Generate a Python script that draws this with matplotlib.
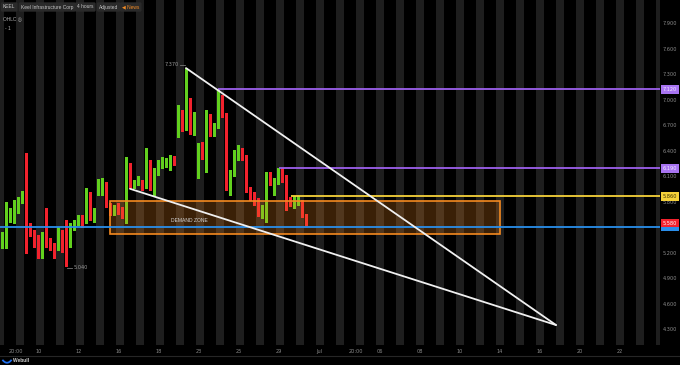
import matplotlib
matplotlib.use('Agg')
import matplotlib.pyplot as plt
from matplotlib.patches import Rectangle
from matplotlib.lines import Line2D
import numpy as np

# ---------------- data (4-hour bars, KEEL) ----------------
opens = [5.31, 5.38, 5.65, 5.67, 5.70, 5.79, 5.90, 5.50, 5.43, 5.39,
         5.18, 5.39, 5.32, 5.28, 5.35, 5.41, 5.29, 5.29, 5.51, 5.55,
         5.59, 5.56, 5.90, 5.58, 5.95, 5.95, 5.98, 5.75, 5.68, 5.72,
         5.71, 5.59, 6.15, 5.97, 6.02, 6.02, 5.97, 6.16, 5.97, 6.17,
         6.21, 6.23, 6.21, 6.30, 6.68, 6.84, 6.68, 6.99, 6.65, 6.14,
         6.43, 6.17, 6.78, 6.61, 6.69, 6.99, 6.82, 5.99, 6.14, 6.32,
         6.38, 6.32, 5.95, 5.88, 5.79, 5.64, 5.70, 6.11, 6.01, 6.03,
         6.17, 6.08, 5.82, 5.78, 5.79, 5.79, 5.64]
highs = [5.44, 5.79, 5.72, 5.82, 5.85, 5.92, 6.37, 5.55, 5.47, 5.41,
         5.44, 5.72, 5.37, 5.31, 5.50, 5.47, 5.58, 5.55, 5.58, 5.64,
         5.64, 5.96, 5.91, 5.72, 6.07, 6.08, 6.03, 5.78, 5.76, 5.78,
         5.74, 6.32, 6.25, 6.05, 6.10, 6.05, 6.43, 6.29, 6.19, 6.29,
         6.32, 6.31, 6.35, 6.34, 6.94, 6.88, 7.37, 7.02, 6.85, 6.49,
         6.50, 6.88, 6.83, 6.72, 7.12, 7.05, 6.84, 6.17, 6.41, 6.47,
         6.43, 6.35, 5.97, 5.91, 5.84, 5.76, 6.15, 6.15, 6.08, 6.19,
         6.19, 6.11, 5.85, 5.87, 5.87, 5.82, 5.65]
lows = [5.25, 5.25, 5.56, 5.55, 5.67, 5.78, 5.19, 5.39, 5.27, 5.14,
        5.14, 5.27, 5.23, 5.14, 5.23, 5.21, 5.04, 5.27, 5.47, 5.52,
        5.50, 5.55, 5.58, 5.56, 5.88, 5.88, 5.74, 5.64, 5.64, 5.65,
        5.61, 5.55, 5.96, 5.96, 5.99, 5.94, 5.96, 5.94, 5.88, 6.11,
        6.19, 6.21, 6.17, 6.23, 6.56, 6.63, 6.64, 6.59, 6.58, 6.08,
        6.30, 6.15, 6.57, 6.57, 6.67, 6.79, 5.94, 5.88, 6.10, 6.29,
        6.29, 5.91, 5.82, 5.76, 5.63, 5.61, 5.56, 5.99, 5.88, 6.01,
        6.03, 5.70, 5.75, 5.72, 5.76, 5.62, 5.52]
closes = [5.39, 5.67, 5.68, 5.71, 5.82, 5.90, 5.52, 5.43, 5.31, 5.16,
          5.38, 5.32, 5.25, 5.24, 5.38, 5.24, 5.27, 5.52, 5.54, 5.61,
          5.51, 5.90, 5.59, 5.67, 5.97, 5.98, 5.75, 5.67, 5.72, 5.70,
          5.62, 6.15, 5.97, 6.03, 6.07, 5.96, 6.17, 5.97, 6.15, 6.23,
          6.27, 6.28, 6.31, 6.28, 6.87, 6.68, 6.96, 6.68, 6.81, 6.43,
          6.35, 6.79, 6.61, 6.68, 6.97, 6.82, 5.99, 6.14, 6.35, 6.38,
          6.32, 5.95, 5.87, 5.81, 5.67, 5.68, 6.11, 6.03, 6.03, 6.18,
          6.05, 5.82, 5.78, 5.82, 5.83, 5.64, 5.58]

price_ticks = [4.3, 4.6, 4.9, 5.2, 5.5, 5.8, 6.1, 6.4, 6.7, 7.0, 7.3, 7.6, 7.9]
date_labels = ['20:00', '10', '12', '16', '18', '23', '25', '29', 'Jul',
               '20:00', '06', '08', '10', '14', '16', '20', '22']
date_slots = [3.5, 9.25, 19.25, 29.25, 39.25, 49.25, 59.25, 69.25, 79.25,
              88.5, 94.5, 104.5, 114.5, 124.5, 134.5, 144.5, 154.5]

resistance_prices = [7.12, 6.19, 5.86]
resistance_from = [54, 69.25, 72.25]
support_price = 5.50
last_price = 5.58
zone_x = [27, 124.5]
zone_prices = [5.418, 5.806]
trend_a = [(46, 7.37), (138.5, 4.347)]
trend_b = [(32, 5.95), (138.5, 4.347)]
high_mark = (46, 7.37)
low_mark = (16, 5.04)

# ---------------- styling ----------------
GREEN = '#62d11e'
RED = '#f2222d'
TXT = '#8c8c8c'
STRIPE = '#1e1e1e'
PURPLE = '#9d60ec'
YELLOW = '#f6d23a'
BLUE = '#2a8eea'
ORANGE = '#f58a20'
FS = 3.6
HFONT = ['Liberation Sans', 'DejaVu Sans']

fig = plt.figure(figsize=(6.8, 3.65), dpi=100, facecolor='black')
ax = fig.add_axes([0, 20 / 365, 660 / 680, 345 / 365], facecolor='black')
ax.set_xlim(-0.5, 164.5)
ax.set_ylim(4.112, 8.171)
for s in ax.spines.values():
    s.set_visible(False)

# session stripes
for j in range(-1, 34):
    ax.axvspan(3.375 + 5 * j, 5.375 + 5 * j, color=STRIPE, lw=0, zorder=0)

# candles
for i, (o, h, l, c) in enumerate(zip(opens, highs, lows, closes)):
    col = GREEN if c >= o else RED
    ax.vlines(i, l, h, color=col, lw=0.75, zorder=2, antialiased=False)
    b = min(o, c)
    hgt = max(abs(c - o), 0.018)
    ax.add_patch(Rectangle((i - 0.375, b), 0.75, hgt, fc=col, ec='none', zorder=2,
                           antialiased=False))

# demand zone
ax.add_patch(Rectangle((zone_x[0], zone_prices[0]), zone_x[1] - zone_x[0],
                       zone_prices[1] - zone_prices[0],
                       fc=(0.96, 0.54, 0.13, 0.24), ec=ORANGE, lw=1.2, zorder=3))
ax.text((zone_x[0] + zone_x[1]) / 2 - 28.8, 5.571, 'DEMAND ZONE', fontsize=FS,
        color='#d6d6d6', ha='center', va='center', zorder=4, family=HFONT)

# horizontal levels
for p, x0, col in zip(resistance_prices, resistance_from, [PURPLE, PURPLE, YELLOW]):
    ax.hlines(p, x0, 164.5, color=col, lw=1.3, zorder=4)
ax.axhline(support_price, color=BLUE, lw=1.3, zorder=4)

# trend lines
for (x0, y0), (x1, y1) in [trend_a, trend_b]:
    ax.plot([x0, x1], [y0, y1], color='#f0f0f0', lw=1.3, zorder=5,
            solid_capstyle='round')

# high / low markers
ax.plot([high_mark[0] - 1.6, high_mark[0] - 0.2], [high_mark[1] + 0.04] * 2,
        color='#777777', lw=0.6, zorder=5)
ax.text(high_mark[0] - 1.8, high_mark[1] + 0.045, '%.3f' % high_mark[1], fontsize=FS,
        color='#9a9a9a', ha='right', va='center', zorder=5)
ax.plot([low_mark[0] + 0.2, low_mark[0] + 1.6], [low_mark[1] - 0.02] * 2,
        color='#777777', lw=0.6, zorder=5)
ax.text(low_mark[0] + 1.9, low_mark[1] - 0.02, '%.3f' % low_mark[1], fontsize=FS,
        color='#9a9a9a', ha='left', va='center', zorder=5)

# axes ticks
ax.yaxis.tick_right()
ax.set_yticks(price_ticks)
ax.set_yticklabels(['%.3f' % v for v in price_ticks])
ax.tick_params(axis='y', length=0, pad=2.2, labelsize=FS, labelcolor=TXT)
ax.set_xticks(date_slots)
ax.set_xticklabels(date_labels)
ax.tick_params(axis='x', length=0, pad=3, labelsize=FS, labelcolor=TXT)

# price tags on right axis
trans = ax.get_yaxis_transform()
def tag(y, text, fc, tc):
    ax.text(1.004, y, text, transform=trans, fontsize=FS, color=tc, ha='left',
            va='center', clip_on=False, zorder=10,
            bbox=dict(boxstyle='square,pad=0.35', fc=fc, ec='none'))

tag(support_price, '5.500', BLUE, BLUE)
tag(resistance_prices[0], '%.3f' % resistance_prices[0], '#a874f2', '#f4ecff')
tag(resistance_prices[1], '%.3f' % resistance_prices[1], '#a874f2', '#f4ecff')
tag(resistance_prices[2], '%.3f' % resistance_prices[2], YELLOW, '#3a3000')
tag(last_price - 0.035, '%.3f' % last_price, RED, '#ffffff')

# header
hdr_y = 1 - 7 / 365
items = [('KEEL', 3), ('Keel Infrastructure Corp', 21), ('4 hours', 77), ('Adjusted', 99)]
for t, px in items:
    fig.text(px / 680, hdr_y, t, fontsize=3.5, color='#c4c4c4', ha='left', va='center',
             family=HFONT,
             bbox=dict(boxstyle='round,pad=0.45,rounding_size=0.3', fc='#2a2a2a', ec='none'))
fig.text(122 / 680, hdr_y, '\u25c0 News', fontsize=3.5, color='#f08a24', ha='left',
         va='center', family=HFONT,
         bbox=dict(boxstyle='round,pad=0.45,rounding_size=0.3', fc='#2a2a2a', ec='none'))
fig.text(3 / 680, 1 - 19 / 365, 'OHLC \u25ce', fontsize=3.5, color='#b0b0b0', ha='left',
         va='center', family=HFONT)
fig.text(5 / 680, 1 - 28 / 365, '- 1', fontsize=3.5, color='#b0b0b0', ha='left',
         va='center', family=HFONT)

# footer
fig.add_artist(Line2D([0, 1], [1 - 355.5 / 365] * 2, color='#262626', lw=0.8,
                      transform=fig.transFigure))
tt = np.linspace(-1, 1, 20)
fig.add_artist(Line2D((7 + 4 * tt) / 680, 1 - (360.5 + 2.2 * (1 - tt ** 2)) / 365,
                      color='#1e6ff0', lw=1.3, transform=fig.transFigure))
fig.text(13 / 680, 1 - 361 / 365, 'Webull', fontsize=3.5, color='#d0d0d0',
         ha='left', va='center', fontweight='bold', family=HFONT)

fig.savefig('out.png', dpi=100, facecolor='black')
